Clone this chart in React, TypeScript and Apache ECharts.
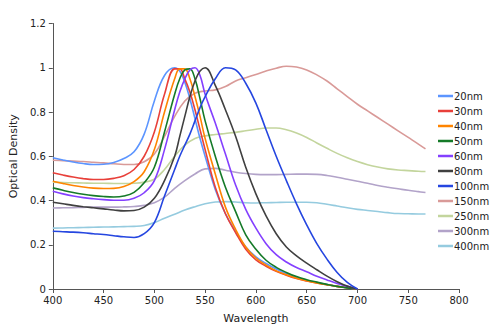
import React, { useEffect, useRef } from "react";
import * as echarts from "echarts";

const sharpX = [400, 410, 420, 430, 440, 450, 460, 470, 480, 490, 500, 510, 520, 525, 530, 535, 540, 545, 550, 560, 570, 580, 590, 600, 610, 620, 630, 640, 650, 660, 670, 680, 690, 700];
const broadX = [400, 410, 420, 430, 440, 450, 460, 470, 480, 490, 500, 510, 520, 530, 540, 550, 560, 570, 580, 590, 600, 610, 620, 630, 640, 650, 660, 670, 680, 690, 700, 710, 720, 730, 740, 750, 760, 767];

const nm20 = [0.593, 0.583, 0.574, 0.567, 0.563, 0.564, 0.572, 0.59, 0.62, 0.70, 0.85, 0.965, 1.0, 0.985, 0.935, 0.86, 0.77, 0.68, 0.6, 0.45, 0.34, 0.26, 0.19, 0.145, 0.115, 0.09, 0.07, 0.053, 0.04, 0.029, 0.02, 0.012, 0.006, 0];
const nm30 = [0.525, 0.515, 0.506, 0.499, 0.495, 0.495, 0.5, 0.512, 0.54, 0.6, 0.71, 0.88, 0.995, 0.995, 0.95, 0.89, 0.81, 0.72, 0.63, 0.46, 0.34, 0.255, 0.18, 0.132, 0.103, 0.08, 0.062, 0.047, 0.036, 0.027, 0.019, 0.012, 0.006, 0];
const nm40 = [0.487, 0.477, 0.468, 0.461, 0.456, 0.454, 0.455, 0.463, 0.485, 0.53, 0.63, 0.8, 0.95, 0.995, 0.995, 0.95, 0.87, 0.78, 0.68, 0.52, 0.37, 0.27, 0.19, 0.14, 0.108, 0.082, 0.064, 0.049, 0.037, 0.027, 0.019, 0.012, 0.006, 0];
const nm50 = [0.457, 0.446, 0.436, 0.428, 0.422, 0.418, 0.416, 0.42, 0.437, 0.48, 0.55, 0.71, 0.88, 0.95, 0.99, 0.995, 0.95, 0.86, 0.76, 0.6, 0.46, 0.35, 0.245, 0.18, 0.13, 0.098, 0.075, 0.056, 0.042, 0.031, 0.021, 0.012, 0.005, 0];
const nm60 = [0.442, 0.43, 0.42, 0.413, 0.408, 0.404, 0.401, 0.401, 0.41, 0.435, 0.49, 0.63, 0.81, 0.89, 0.95, 0.99, 1.0, 0.965, 0.88, 0.75, 0.61, 0.47, 0.36, 0.275, 0.205, 0.155, 0.122, 0.097, 0.078, 0.058, 0.041, 0.025, 0.012, 0];
const nm80 = [0.392, 0.385, 0.378, 0.372, 0.367, 0.362, 0.357, 0.353, 0.355, 0.37, 0.41, 0.49, 0.6, 0.69, 0.78, 0.87, 0.94, 0.985, 1.0, 0.92, 0.81, 0.69, 0.55, 0.43, 0.33, 0.25, 0.19, 0.15, 0.117, 0.087, 0.058, 0.033, 0.013, 0];
const nm100 = [0.261, 0.259, 0.257, 0.254, 0.25, 0.246, 0.241, 0.236, 0.233, 0.25, 0.3, 0.42, 0.54, 0.6, 0.65, 0.7, 0.76, 0.82, 0.87, 0.95, 1.0, 0.99, 0.93, 0.84, 0.72, 0.6, 0.49, 0.385, 0.29, 0.205, 0.135, 0.075, 0.03, 0];
const nm150 = [0.582, 0.58, 0.578, 0.576, 0.573, 0.57, 0.566, 0.563, 0.563, 0.575, 0.61, 0.69, 0.78, 0.85, 0.885, 0.895, 0.9, 0.915, 0.94, 0.955, 0.97, 0.985, 0.998, 1.007, 1.003, 0.99, 0.968, 0.94, 0.905, 0.87, 0.835, 0.805, 0.775, 0.745, 0.715, 0.685, 0.655, 0.633];
const nm250 = [0.483, 0.481, 0.48, 0.479, 0.478, 0.478, 0.477, 0.477, 0.478, 0.483, 0.496, 0.54, 0.6, 0.65, 0.68, 0.692, 0.698, 0.703, 0.708, 0.715, 0.722, 0.728, 0.728, 0.72, 0.705, 0.685, 0.66, 0.636, 0.613, 0.593, 0.576, 0.562, 0.551, 0.543, 0.538, 0.535, 0.532, 0.531];
const nm300 = [0.366, 0.367, 0.368, 0.369, 0.37, 0.37, 0.37, 0.371, 0.373, 0.378, 0.39, 0.415, 0.455, 0.49, 0.52, 0.543, 0.545, 0.537, 0.528, 0.522, 0.518, 0.517, 0.517, 0.518, 0.519, 0.519, 0.518, 0.513, 0.505, 0.496, 0.487, 0.478, 0.468, 0.46, 0.453, 0.446, 0.44, 0.436];
const nm400 = [0.275, 0.276, 0.277, 0.278, 0.279, 0.28, 0.281, 0.282, 0.283, 0.287, 0.3, 0.32, 0.338, 0.357, 0.372, 0.385, 0.393, 0.395, 0.393, 0.39, 0.389, 0.39, 0.391, 0.392, 0.392, 0.392, 0.39, 0.383, 0.375, 0.367, 0.36, 0.355, 0.35, 0.345, 0.341, 0.34, 0.339, 0.339];

const seriesNames = ["20nm", "30nm", "40nm", "50nm", "60nm", "80nm", "100nm", "150nm", "250nm", "300nm", "400nm"];
const seriesValues = [nm20, nm30, nm40, nm50, nm60, nm80, nm100, nm150, nm250, nm300, nm400];
const seriesIsBroad = [false, false, false, false, false, false, false, true, true, true, true];
const seriesColors = ["#5c95ff", "#e8403a", "#ff8400", "#157a28", "#8440ff", "#404040", "#2546e0", "#d99a98", "#c3d59d", "#b2a3c9", "#95cbdf"];

export default function App() {
  const ref = useRef<HTMLDivElement>(null);
  useEffect(() => {
    if (!ref.current) return;
    const chart = echarts.init(ref.current, undefined, { renderer: "svg" });
    const font = "DejaVu Sans, Verdana, sans-serif";
    const series = seriesNames.map((name, i) => {
      const xs = seriesIsBroad[i] ? broadX : sharpX;
      return {
        name,
        type: "line",
        data: xs.map((x, j) => [x, seriesValues[i][j]]),
        smooth: 0.4,
        showSymbol: false,
        symbol: "none",
        lineStyle: { width: 1.6, color: seriesColors[i] },
        itemStyle: { color: seriesColors[i] },
        z: seriesIsBroad[i] ? 1 : 2,
      };
    });
    chart.setOption({
      animation: false,
      backgroundColor: "#ffffff",
      grid: { left: 51.5, right: 41, top: 23.5, bottom: 44, containLabel: false },
      legend: {
        orient: "vertical",
        left: 433,
        top: 86,
        icon: "rect",
        itemWidth: 15,
        itemHeight: 2.5,
        itemGap: 5,
        data: seriesNames,
        textStyle: { fontFamily: font, fontSize: 10, color: "#222", padding: [0, 0, 0, -4] },
      },
      xAxis: {
        type: "value",
        min: 400,
        max: 800,
        interval: 50,
        name: "Wavelength",
        nameLocation: "middle",
        nameGap: 24,
        nameTextStyle: { fontFamily: font, fontSize: 11, color: "#222" },
        axisLine: { lineStyle: { color: "#555", width: 1 } },
        axisTick: { show: true, length: 4, lineStyle: { color: "#555" } },
        axisLabel: { fontFamily: font, fontSize: 10, color: "#222", margin: 6 },
        splitLine: { show: false },
      },
      yAxis: {
        type: "value",
        min: 0,
        max: 1.2,
        interval: 0.2,
        name: "Optical Density",
        nameLocation: "middle",
        nameGap: 33,
        nameTextStyle: { fontFamily: font, fontSize: 11, color: "#222" },
        axisLine: { show: true, lineStyle: { color: "#555", width: 1 } },
        axisTick: { show: true, length: 4, lineStyle: { color: "#555" } },
        axisLabel: { fontFamily: font, fontSize: 10, color: "#222", margin: 7 },
        splitLine: { show: false },
      },
      series,
    });
    return () => chart.dispose();
  }, []);
  return <div ref={ref} style={{ width: 500, height: 333, position: "absolute", left: 0, top: 0 }} />;
}
